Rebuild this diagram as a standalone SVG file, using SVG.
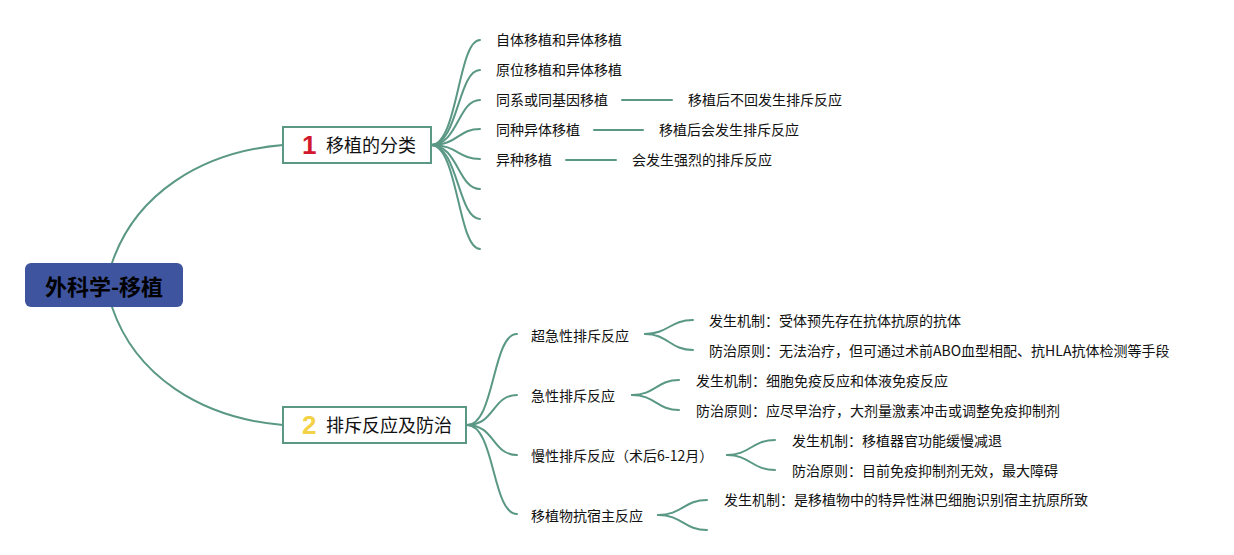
<svg xmlns="http://www.w3.org/2000/svg" width="1234" height="555" viewBox="0 0 1234 555">
<style>
.c{fill:none;stroke:#5a9885;stroke-width:2;stroke-linecap:round}
.t{font-family:"Noto Sans CJK SC","Liberation Sans",sans-serif;font-size:14px;fill:#111}
.b{font-family:"Noto Sans CJK SC","Liberation Sans",sans-serif;font-size:18px;fill:#111}
.box{fill:#fff;stroke:#5a9885;stroke-width:2}
.num{font-family:"Liberation Sans","DejaVu Sans",sans-serif;font-size:26px;font-weight:bold}
</style>
<rect width="1234" height="555" fill="#fff"/>
<g id="connectors">
<path class="c" d="M112,263 C135,195 200,152 283,145"/>
<path class="c" d="M112,307 C135,375 200,418 283,425"/>
<path class="c" d="M431,145 C458,145 458,40 480,40"/>
<path class="c" d="M431,145 C458,145 458,70 480,70"/>
<path class="c" d="M431,145 C458,145 458,100 480,100"/>
<path class="c" d="M431,145 C458,145 458,129 480,129"/>
<path class="c" d="M431,145 C458,145 458,159 480,159"/>
<path class="c" d="M431,145 C458,145 458,189 480,189"/>
<path class="c" d="M431,145 C458,145 458,219 480,219"/>
<path class="c" d="M431,145 C458,145 458,249 480,249"/>
<path class="c" d="M622,100 L672,100"/>
<path class="c" d="M594,130 L643,130"/>
<path class="c" d="M566,160 L616,160"/>
<path class="c" d="M467,425 C495,425 492,334 517,334"/>
<path class="c" d="M467,425 C495,425 492,395 517,395"/>
<path class="c" d="M467,425 C495,425 492,455 517,455"/>
<path class="c" d="M467,425 C495,425 492,514 517,514"/>
<path class="c" d="M645,334 C668,334 670,320 693,320"/>
<path class="c" d="M645,334 C668,334 670,350 693,350"/>
<path class="c" d="M632,395 C655,395 657,380 679,380"/>
<path class="c" d="M632,395 C655,395 657,410 679,410"/>
<path class="c" d="M727,455 C750,455 752,440 775,440"/>
<path class="c" d="M727,455 C750,455 752,470 775,470"/>
<path class="c" d="M658,515 C682,515 684,500 707,500"/>
<path class="c" d="M658,515 C682,515 684,530 707,530"/>
</g>
<g id="root">
<rect x="25" y="263" width="158" height="44" rx="6" fill="#3f549e"/>
<text x="104" y="295" text-anchor="middle" font-family="Noto Sans CJK SC,Liberation Sans,sans-serif" font-size="22" font-weight="bold" fill="#000">外科学-移植</text>
</g>
<g id="n1">
<rect class="box" x="283" y="127" width="148" height="36"/>
<text class="num" x="302" y="154" fill="#d3182e">1</text>
<text class="b" x="326" y="152">移植的分类</text>
</g>
<g id="n2">
<rect class="box" x="283" y="407" width="183" height="36"/>
<text class="num" x="302" y="434" fill="#f3d247">2</text>
<text class="b" x="326" y="432">排斥反应及防治</text>
</g>
<g id="n1-children">
<text class="t" x="496" y="45">自体移植和异体移植</text>
<text class="t" x="496" y="75">原位移植和异体移植</text>
<text class="t" x="496" y="105">同系或同基因移植</text>
<text class="t" x="496" y="135">同种异体移植</text>
<text class="t" x="496" y="165">异种移植</text>
<text class="t" x="688" y="105">移植后不回发生排斥反应</text>
<text class="t" x="659" y="135">移植后会发生排斥反应</text>
<text class="t" x="632" y="165">会发生强烈的排斥反应</text>
</g>
<g id="n2-children">
<text class="t" x="531" y="341">超急性排斥反应</text>
<text class="t" x="531" y="401">急性排斥反应</text>
<text class="t" x="531" y="461">慢性排斥反应（术后6-12月）</text>
<text class="t" x="531" y="521">移植物抗宿主反应</text>
<text class="t" x="709" y="326">发生机制：受体预先存在抗体抗原的抗体</text>
<text class="t" x="709" y="356">防治原则：无法治疗，但可通过术前ABO血型相配、抗HLA抗体检测等手段</text>
<text class="t" x="696" y="386">发生机制：细胞免疫反应和体液免疫反应</text>
<text class="t" x="696" y="416">防治原则：应尽早治疗，大剂量激素冲击或调整免疫抑制剂</text>
<text class="t" x="792" y="446">发生机制：移植器官功能缓慢减退</text>
<text class="t" x="792" y="476">防治原则：目前免疫抑制剂无效，最大障碍</text>
<text class="t" x="724" y="505">发生机制：是移植物中的特异性淋巴细胞识别宿主抗原所致</text>
</g>
</svg>
